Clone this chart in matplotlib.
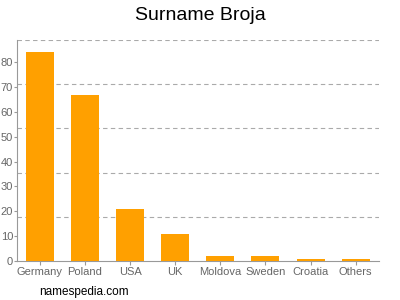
"""Bar chart of surname Broja counts by country."""
import matplotlib
matplotlib.use("Agg")
import matplotlib.pyplot as plt
import numpy as np

countries = ["Germany", "Poland", "USA", "UK", "Moldova", "Sweden", "Croatia", "Others"]
counts = [84, 67, 21, 11, 2, 2, 1, 1]
y_ticks = [0, 10, 20, 30, 40, 50, 60, 70, 80]

plt.rcParams["font.family"] = ["Liberation Sans", "DejaVu Sans"]

fig = plt.figure(figsize=(4, 3), dpi=100)
ax = fig.add_axes([0.043, 0.13, 0.905, 0.737])

x = np.arange(len(countries))
ax.bar(x, counts, width=0.62, color="#ffa000", zorder=3)

ymax = 89
ax.set_xlim(-0.5, len(countries) - 0.48)
ax.set_ylim(0, ymax)
for g in np.linspace(0, ymax, 6)[1:]:
    ax.axhline(g, color="#aaaaaa", linestyle=(0, (4, 3)), linewidth=0.8, zorder=1)

ax.set_xticks(x)
ax.set_xticklabels(countries)
ax.set_yticks(y_ticks)
ax.tick_params(axis="both", colors="#999999", labelcolor="#666666", labelsize=8, length=3, width=0.8)
ax.tick_params(axis="y", length=2, pad=1)
ax.tick_params(axis="x", pad=1)

for side in ["top", "right"]:
    ax.spines[side].set_visible(False)
for side in ["left", "bottom"]:
    ax.spines[side].set_color("#999999")
    ax.spines[side].set_linewidth(0.8)

fig.text(0.5, 0.95, "Surname Broja", ha="center", va="center", fontsize=14)
fig.text(0.098, 0.027, "namespedia.com", ha="left", va="center", fontsize=8.5)

fig.savefig("out.png", dpi=100)
